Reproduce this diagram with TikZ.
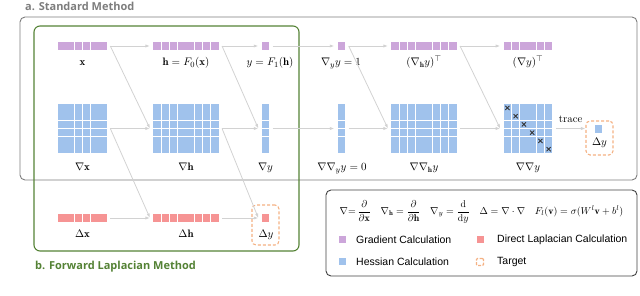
\documentclass[tikz,border=0pt]{standalone}
\usepackage{amsmath,amssymb}
\usepackage{fontspec}
\newfontfamily\legfont{Liberation Sans}
\newfontfamily\ttlfont{Open Sans}
\usetikzlibrary{arrows.meta,calc}
\definecolor{lav}{RGB}{204,166,218}
\definecolor{hblue}{RGB}{160,194,236}
\definecolor{lred}{RGB}{246,148,148}
\definecolor{tgtor}{RGB}{244,177,131}
\definecolor{arrgray}{RGB}{210,210,210}
\definecolor{boxgray}{RGB}{125,125,125}
\definecolor{fgreen}{RGB}{84,130,53}
\newcommand\cellgrid[6]{%
  \pgfmathsetmacro\cgW{#4*8.25-0.9}\pgfmathsetmacro\cgH{#5*8.25-0.9}%
  \node[gridnode,minimum width=\cgW pt,minimum height=\cgH pt] (#1) at (#2,#3) {};
  \foreach \ci in {1,...,#4}{\foreach \cj in {1,...,#5}{
    \fill[#6] ({#2-\cgW/2+(\ci-1)*8.25},{#3-\cgH/2+(\cj-1)*8.25}) rectangle ++(7.35,7.35);}}
}
\begin{document}
\begin{tikzpicture}[x=1pt,y=-1pt,
  gridnode/.style={inner sep=0,outer sep=3.5pt},
  lbl/.style={anchor=base,inner sep=0,font=\fontsize{10.8}{12}\selectfont},
  arr/.style={draw=arrgray,line width=0.8pt,-{Latex[length=4.5pt,width=3.2pt]}},
  tgtbox/.style={draw=tgtor,dashed,dash pattern=on 3pt off 2pt,line width=1.1pt,rounded corners=4pt,inner sep=0},
  legtxt/.style={anchor=west,inner sep=0,font=\legfont\fontsize{10.5}{12}\selectfont},
  legsq/.style={minimum size=7pt,inner sep=0}]
\useasboundingbox (0,0) rectangle (640,296);
% frames
\draw[boxgray,line width=0.9pt,rounded corners=5pt] (20,17) rectangle (637,180);
\node[anchor=base west,inner sep=0,text=boxgray,font=\ttlfont\bfseries\fontsize{11}{13}\selectfont] (ta) at (25,10.5) {a. Standard Method};
\draw[fgreen,line width=1.1pt,rounded corners=6pt] (34,26) rectangle (299,251);
\node[anchor=base west,inner sep=0,text=fgreen,font=\ttlfont\bfseries\fontsize{11}{13}\selectfont] (tb) at (35,269.5) {b. Forward Laplacian Method};
% row 1
\cellgrid{x}{82.5}{46}{6}{1}{lav}
\cellgrid{h}{186}{46}{8}{1}{lav}
\cellgrid{y}{265.5}{46}{1}{1}{lav}
\cellgrid{gyy}{341.5}{46}{1}{1}{lav}
\cellgrid{ghy}{424}{46}{8}{1}{lav}
\cellgrid{gy}{528}{46}{6}{1}{lav}
% row 2
\cellgrid{nx}{82.5}{128.5}{6}{6}{hblue}
\cellgrid{nh}{186}{128.5}{8}{6}{hblue}
\cellgrid{ny}{265.5}{128.5}{1}{6}{hblue}
\cellgrid{nnyy}{341.5}{128.5}{1}{6}{hblue}
\cellgrid{nnhy}{424}{128.5}{8}{6}{hblue}
\cellgrid{nny}{528}{128.5}{6}{6}{hblue}
\foreach \i in {0,...,5}{
  \draw[black!80,line width=0.8pt] ({507.4+\i*8.25-2.1},{107.9+\i*8.25-2.1}) -- ++(4.2,4.2)
    ({507.4+\i*8.25-2.1},{107.9+\i*8.25+2.1}) -- ++(4.2,-4.2);}
% row 3
\cellgrid{dx}{82.5}{218}{6}{1}{lred}
\cellgrid{dh}{186}{218}{8}{1}{lred}
\cellgrid{dy}{265.5}{218}{1}{1}{lred}
% targets
\node[tgtbox,minimum width=27pt,minimum height=40pt] (tgtb) at (265.5,225) {};
\node[tgtbox,minimum width=27pt,minimum height=34pt] (tgta) at (599.5,138) {};
\cellgrid{lap}{598.5}{129}{1}{1}{hblue}
% labels
\node[lbl] (lx) at (82.5,65.5) {$\mathbf{x}$};
\node[lbl] (lh) at (186,65.5) {$\mathbf{h}=F_0(\mathbf{x})$};
\node[lbl] (ly) at (270,65.5) {$y=F_1(\mathbf{h})$};
\node[lbl] (lgyy) at (341,65.5) {$\nabla_y y=1$};
\node[lbl] (lghy) at (424,65.5) {$(\nabla_{\mathbf{h}} y)^{\top}$};
\node[lbl] (lgy) at (528,65.5) {$(\nabla y)^{\top}$};
\node[lbl] (lnx) at (82.5,171) {$\nabla\mathbf{x}$};
\node[lbl] (lnh) at (186,171) {$\nabla\mathbf{h}$};
\node[lbl] (lny) at (265.5,171) {$\nabla y$};
\node[lbl] (lnnyy) at (342,171) {$\nabla\nabla_y y=0$};
\node[lbl] (lnnhy) at (424,171) {$\nabla\nabla_{\mathbf{h}} y$};
\node[lbl] (lnny) at (528,171) {$\nabla\nabla y$};
\node[lbl] (ldx) at (82.5,237.5) {$\Delta\mathbf{x}$};
\node[lbl] (ldh) at (186,237.5) {$\Delta\mathbf{h}$};
\node[lbl] (ldy) at (266,237.5) {$\Delta y$};
\node[lbl] (llap) at (599.5,145.5) {$\Delta y$};
% arrows row 1
\draw[arr] (x.east) -- (h.west);
\draw[arr] (h.east) -- (y.west);
\draw[arr] (y.east) -- (gyy.west);
\draw[arr] (gyy.east) -- (ghy.west);
\draw[arr] (ghy.east) -- (gy.west);
% diagonals 1->2
\draw[arr] (x.east) -- (nh.west);
\draw[arr] (h.east) -- (ny.west);
\draw[arr] (gyy.east) -- (nnhy.west);
\draw[arr] (ghy.east) -- (nny.west);
% arrows row 2
\draw[arr] (nx.east) -- (nh.west);
\draw[arr] (nh.east) -- (ny.west);
\draw[arr] (ny.east) -- (nnyy.west);
\draw[arr] (nnyy.east) -- (nnhy.west);
\draw[arr] (nnhy.east) -- (nny.west);
\draw[arr] (nny.east) -- (nny.east -| tgta.west) node[midway,above=5pt,black,inner sep=0,font=\fontsize{10.8}{12}\selectfont] (trace) {trace};
% diagonals 2->3
\draw[arr] (nx.east) -- (dh.west);
\draw[arr] (nh.east) -- (dy.west);
% arrows row 3
\draw[arr] (dx.east) -- (dh.west);
\draw[arr] (dh.east) -- (dy.west);
% legend
\node[draw=black!75,line width=0.9pt,rounded corners=5pt,minimum width=311pt,minimum height=86pt] (leg) at (481.5,233) {};
\node[inner sep=0,font=\fontsize{9.8}{11}\selectfont] (form) at (481.5,212) {$\nabla{=}\,\dfrac{\partial}{\partial\mathbf{x}}\quad \nabla_{\mathbf{h}}=\dfrac{\partial}{\partial\mathbf{h}}\quad \nabla_y=\dfrac{\mathrm{d}}{\mathrm{d}y}\quad \Delta=\nabla\cdot\nabla\quad F_l(\mathbf{v})=\sigma(W^l\mathbf{v}+b^l)$};
\node[legsq,fill=lav] (sq1) at (342,240) {};
\node[legtxt] (t1) at (356,240) {Gradient Calculation};
\node[legsq,fill=lred] (sq2) at (480,240) {};
\node[legtxt] (t2) at (497,240) {Direct Laplacian Calculation};
\node[legsq,fill=hblue] (sq3) at (342,262) {};
\node[legtxt] (t3) at (356,262) {Hessian Calculation};
\node[legsq,draw=tgtor,dashed,dash pattern=on 3pt off 1.5pt,line width=1.2pt,rounded corners=1pt,minimum size=7pt] (sq4) at (480,262) {};
\node[legtxt] (t4) at (497,262) {Target};
\end{tikzpicture}
\end{document}
